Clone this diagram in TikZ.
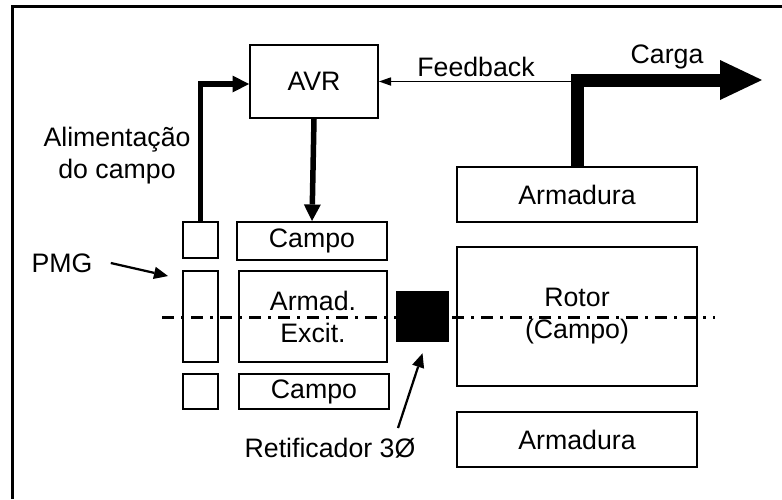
\documentclass[tikz,border=0pt]{standalone}
\usepackage{fontspec}
\setmainfont{Liberation Sans}
\usepackage{tikz}
\usetikzlibrary{arrows.meta,positioning,calc}
\newcommand{\labelfont}{\fontsize{15.2}{18.2}\selectfont}
\tikzset{
  blockbox/.style={draw,line width=0.04cm,inner sep=0pt,align=center,font=\labelfont},
  textlabel/.style={font=\labelfont,align=center,inner sep=0pt},
  frameline/.style={line width=0.06cm},
  shaftline/.style={line width=0.06cm,dash pattern=on 0.24cm off 0.14cm on 0.06cm off 0.14cm},
  powerarrow/.style={-{Triangle[length=0.33cm,width=0.34cm,line width=0pt]},line width=0.11cm},
  loadarrow/.style={-{Triangle[length=0.84cm,width=0.8cm,line width=0pt]},line width=0.26cm,line join=miter},
  fbarrow/.style={-{Triangle[length=0.24cm,width=0.17cm,line width=0pt]},line width=0.025cm},
  pointer/.style={-{Triangle[length=0.28cm,width=0.25cm,line width=0pt]},line width=0.045cm}
}
\begin{document}
\begin{tikzpicture}[>=Latex]
  \useasboundingbox (0,0) rectangle (15.64,-9.98);
  \draw[frameline] (0.24,-9.98) -- (0.24,-0.12) -- (15.64,-0.12);
  % axis of the machine
  \draw[shaftline] (3.24,-6.34) -- (14.3,-6.34);
  % regulator and exciter
  \node[blockbox,minimum width=2.56cm,minimum height=1.46cm] (avr) at (6.28,-1.63) {AVR};
  \node[blockbox,minimum width=0.7cm,minimum height=0.72cm] (pmgtop) at (4.01,-4.80) {};
  \node[blockbox,minimum width=0.7cm,minimum height=1.82cm] (pmg) at (4.01,-6.33) {};
  \node[blockbox,minimum width=0.7cm,minimum height=0.7cm] (pmgbot) at (4.01,-7.83) {};
  \node[blockbox,minimum width=3.0cm,minimum height=0.76cm] (excfieldtop) at (6.24,-4.82) {Campo};
  \node[blockbox,minimum width=2.96cm,minimum height=1.82cm] (excarm) at (6.26,-6.33) {Armad.\\Excit.};
  \node[blockbox,minimum width=3.0cm,minimum height=0.7cm] (excfieldbot) at (6.28,-7.83) {Campo};
  \node[fill,minimum width=1.06cm,minimum height=1.02cm,inner sep=0pt] (rect) at (8.45,-6.33) {};
  % main machine
  \node[blockbox,minimum width=4.8cm,minimum height=1.1cm] (armtop) at (11.54,-3.89) {Armadura};
  \node[blockbox,minimum width=4.8cm,minimum height=2.78cm] (rotor) at (11.54,-6.33) {Rotor\\(Campo)};
  \node[blockbox,minimum width=4.8cm,minimum height=1.1cm] (armbot) at (11.54,-8.79) {Armadura};
  % labels
  \node[textlabel] (supplylabel) at (2.34,-3.12) {Alimentação\\do campo};
  \node[textlabel] (pmglabel) at (1.24,-5.26) {PMG};
  \node[textlabel] (rectlabel) at (6.6,-8.96) {Retificador 3Ø};
  \node[textlabel] (fblabel) at (9.52,-1.34) {Feedback};
  \node[textlabel] (loadlabel) at (13.34,-1.14) {Carga};
  \coordinate (loadend) at (15.24,-1.6);
  \coordinate (pmgtip) at (3.36,-5.52);
  \coordinate (rectfoot) at (7.96,-8.56);
  % connectors
  \draw[powerarrow] (pmgtop.north) |- ([yshift=-0.05cm]avr.west);
  \draw[powerarrow] (avr.south) -- (excfieldtop.north);
  \draw[loadarrow] (armtop.north) |- (loadend);
  \draw[fbarrow] (armtop.north |- avr.east) -- (avr.east);
  \draw[pointer] ([xshift=0.36cm]pmglabel.east) -- (pmgtip);
  \draw[pointer] (rectfoot) -- ([yshift=-0.22cm]rect.south);
\end{tikzpicture}
\end{document}
